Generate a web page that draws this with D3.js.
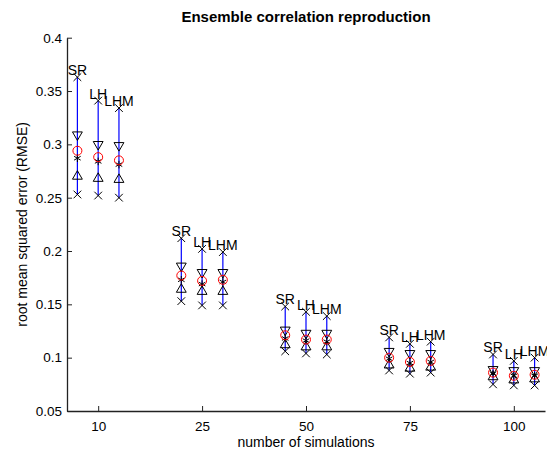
<!DOCTYPE html>
<html>
<head>
<meta charset="utf-8">
<script src="https://cdn.jsdelivr.net/npm/d3@7"></script>
<style>
  body { margin: 0; background: #fff; }
  svg { font-family: "Liberation Sans", Arial, Helvetica, sans-serif; }
  .axis path, .axis line { stroke: #222; }
  .axis text { font-size: 13.5px; fill: #000; }
</style>
</head>
<body>
<div id="chart"></div>
<script>
'use strict'
// x groups (number of simulations) and the three sampling methods
const nsims = ["10", "25", "50", "75", "100"]
const methods = ["SR", "LH", "LHM"]
const offsets = [-0.2, 0, 0.2]

// RMSE statistics per method, one value per group
const maxVals = [
  [0.363, 0.212, 0.148, 0.119, 0.103],
  [0.341, 0.202, 0.143, 0.113, 0.097],
  [0.334, 0.199, 0.139, 0.115, 0.100]
]
const upperVals = [
  [0.309, 0.186, 0.126, 0.106, 0.089],
  [0.300, 0.180, 0.123, 0.104, 0.088],
  [0.299, 0.180, 0.123, 0.104, 0.088]
]
const meanVals = [
  [0.294, 0.177, 0.121, 0.100, 0.086],
  [0.288, 0.172, 0.117, 0.096, 0.083],
  [0.285, 0.173, 0.117, 0.097, 0.084]
]
const medianVals = [
  [0.287, 0.173, 0.118, 0.099, 0.085],
  [0.284, 0.169, 0.116, 0.095, 0.083],
  [0.281, 0.171, 0.115, 0.096, 0.083]
]
const lowerVals = [
  [0.270, 0.164, 0.112, 0.093, 0.082],
  [0.268, 0.162, 0.110, 0.090, 0.079],
  [0.267, 0.162, 0.110, 0.091, 0.080]
]
const minVals = [
  [0.253, 0.153, 0.106, 0.088, 0.075],
  [0.252, 0.149, 0.104, 0.085, 0.074],
  [0.250, 0.149, 0.103, 0.086, 0.074]
]
const yTicks = [0.05, 0.1, 0.15, 0.2, 0.25, 0.3, 0.35, 0.4]

const width = 547, height = 450
const svg = d3.select("#chart").append("svg")
  .attr("width", width)
  .attr("height", height)

const x = d3.scaleLinear().domain([0.7, 5.3]).range([67, 545])
const y = d3.scaleLinear().domain([0.05, 0.4]).range([411, 37.7])

// axes, ticks pointing inward like matlab
svg.append("g")
  .attr("class", "axis")
  .attr("transform", `translate(${x.range()[0]},0)`)
  .call(d3.axisLeft(y).tickValues(yTicks).tickFormat(d => d3.format("")(d))
    .tickSizeInner(-5).tickSizeOuter(0).tickPadding(5))
svg.append("g")
  .attr("class", "axis")
  .attr("transform", `translate(0,${y.range()[0]})`)
  .call(d3.axisBottom(x).tickValues([1, 2, 3, 4, 5]).tickFormat(d => nsims[d - 1])
    .tickSizeInner(-5).tickSizeOuter(0).tickPadding(10))
svg.selectAll(".axis path").attr("stroke-width", 1.3)

svg.append("text")
  .attr("x", (x.range()[0] + x.range()[1]) / 2)
  .attr("y", 22)
  .attr("text-anchor", "middle")
  .attr("font-size", 15)
  .attr("font-weight", "bold")
  .text("Ensemble correlation reproduction")
svg.append("text")
  .attr("x", (x.range()[0] + x.range()[1]) / 2)
  .attr("y", 447)
  .attr("text-anchor", "middle")
  .attr("font-size", 14)
  .text("number of simulations")
svg.append("text")
  .attr("transform", `translate(27,${(y.range()[0] + y.range()[1]) / 2}) rotate(-90)`)
  .attr("text-anchor", "middle")
  .attr("font-size", 14)
  .text("root mean squared error (RMSE)")

const xSym = d3.symbol().type(d3.symbolX).size(40)()
const triSym = d3.symbol().type(d3.symbolTriangle).size(42)()
const starSym = d3.symbol().type(d3.symbolAsterisk).size(40)()

methods.forEach((m, k) => {
  const g = svg.append("g")
  const px = i => x(i + 1 + offsets[k])
  const idx = d3.range(nsims.length)

  g.selectAll("line.range").data(idx).enter()
    .append("line")
    .attr("x1", px).attr("x2", px)
    .attr("y1", i => y(minVals[k][i]))
    .attr("y2", i => y(maxVals[k][i]))
    .attr("stroke", "#0000ff")
    .attr("stroke-width", 1.2)

  const mark = (vals, path, rot, color) => {
    g.selectAll(null).data(idx).enter()
      .append("path")
      .attr("d", path)
      .attr("transform", i => `translate(${px(i)},${y(vals[k][i])}) rotate(${rot})`)
      .attr("fill", "none")
      .attr("stroke", color)
      .attr("stroke-width", 1)
  }
  mark(maxVals, xSym, 0, "#000")
  mark(minVals, xSym, 0, "#000")
  mark(upperVals, triSym, 180, "#000")
  mark(lowerVals, triSym, 0, "#000")
  mark(medianVals, starSym, 0, "#000")

  g.selectAll("circle").data(idx).enter()
    .append("circle")
    .attr("cx", px)
    .attr("cy", i => y(meanVals[k][i]))
    .attr("r", 4.5)
    .attr("fill", "none")
    .attr("stroke", "#ff0000")
    .attr("stroke-width", 1)

  g.selectAll("text").data(idx).enter()
    .append("text")
    .attr("x", px)
    .attr("y", i => y(maxVals[k][i]) - 2)
    .attr("text-anchor", "middle")
    .attr("font-size", 14)
    .text(m)
})
</script>
</body>
</html>
